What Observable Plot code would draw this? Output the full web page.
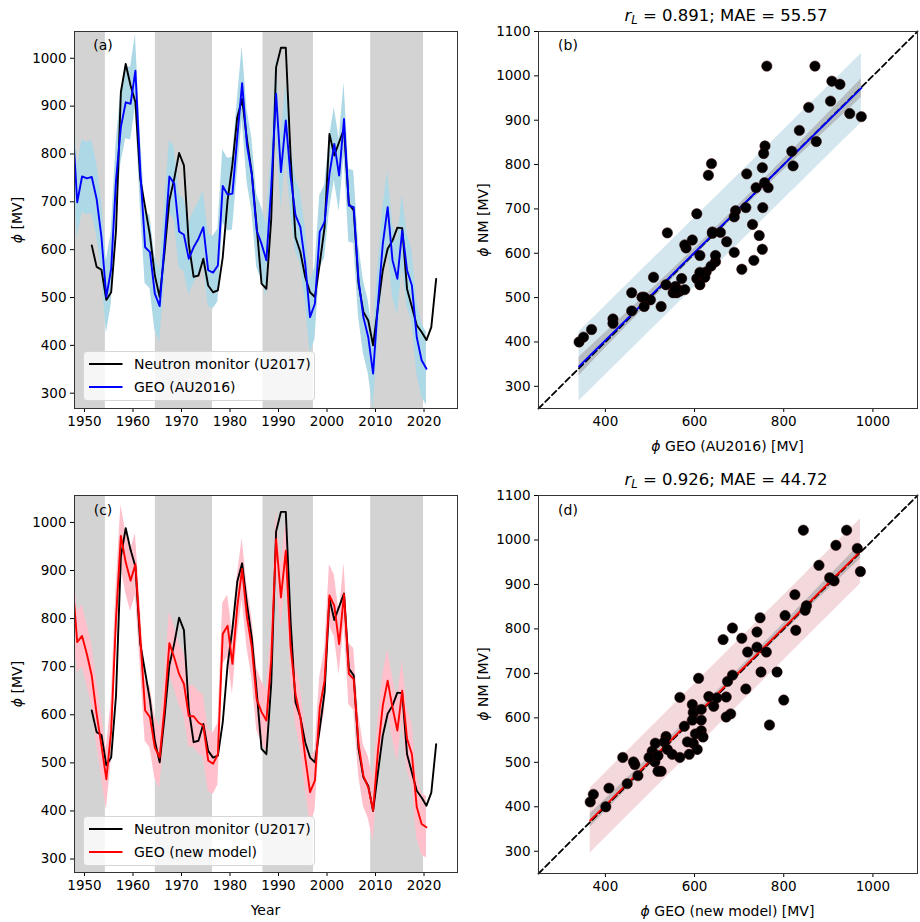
<!DOCTYPE html>
<html><head><meta charset="utf-8">
<script src="https://cdn.jsdelivr.net/npm/d3@7"></script>
<script src="https://cdn.jsdelivr.net/npm/@observablehq/plot@0.6"></script>
<style>
body{margin:0;background:#fff;font-family:"DejaVu Sans",sans-serif;}
#root{position:relative;width:920px;height:922px;overflow:hidden;background:#fff;}
.p{position:absolute;}
.t{position:absolute;font-size:14px;color:#000;white-space:nowrap;line-height:1;transform:translate(-50%,-50%);}
.rot{transform:translate(-50%,-50%) rotate(-90deg);}
.legend{position:absolute;background:rgba(255,255,255,0.8);border:1px solid #d6d6d6;border-radius:4px;box-sizing:border-box;}
.legend .row{position:absolute;left:0;height:20px;display:flex;align-items:center;font-size:14px;white-space:nowrap;}
</style></head><body><div id="root"></div>
<script>
// ---------------- data ----------------
const geoYears = d3.range(1947, 2021);   // plotted at mid-year
const nmYears = d3.range(1951, 2023);
const nmPhi = [609,564,558,495,511,640,929,988,943,908,
  748,689,630,546,501,595,703,748,802,776,
  612,543,546,581,525,511,515,584,703,779,
  877,915,830,759,648,529,518,665,981,1022,
  1022,793,626,595,543,511,501,571,647,842,
  797,825,852,696,682,529,470,452,400,480,
  557,602,619,646,645,518,480,442,428,411,
  438,539];
const geoAU2016 = [870,699,753,749,752,706,626,501,560,745,
  856,908,905,974,765,605,595,508,482,612,
  753,738,638,631,581,605,623,647,557,552,
  567,733,715,717,835,948,818,757,640,612,
  578,730,926,762,870,752,672,647,571,459,
  487,637,658,758,821,755,873,692,689,536,
  459,417,341,487,612,689,578,539,640,557,
  525,417,369,351];
const geoNew = [880,751,764,726,681,602,536,466,567,800,
  972,917,879,913,761,609,595,532,511,615,
  749,719,685,664,597,597,584,577,505,498,
  518,768,785,706,825,903,803,740,632,606,
  588,715,965,844,941,740,643,595,512,439,
  463,615,671,848,827,747,851,685,674,539,
  473,449,401,525,619,671,615,567,650,550,
  518,408,373,366];
const bandAU2016 = 76;   // half-width of shaded uncertainty (MV)
const bandNew = 64;
const predAU2016 = 78;   // half-width of scatter spread band (MV)
const predNew = 73;
const oddCycles = [[1944,1954.3],[1964.6,1976.4],[1986.8,1997.2],[2009.0,2019.9]];
const yearTicks = [1950,1960,1970,1980,1990,2000,2010,2020];
const phiTicks = [300,400,500,600,700,800,900,1000];
const scTicksX = [400,600,800,1000];
const scTicksY = [300,400,500,600,700,800,900,1000,1100];
const scDomain = [250,1100];
const stats = [{r:"0.891", mae:"55.57"},{r:"0.926", mae:"44.72"}];

// ---------------- helpers ----------------
const root = document.getElementById("root");
const FONT = {fontFamily:"DejaVu Sans", fontSize:"13.5px", background:"transparent", color:"black"};

function place(node, left, top){ node.classList.add("p"); node.style.left=left+"px"; node.style.top=top+"px"; root.appendChild(node); }
function text(html, x, y, cls="", size=null){
  const d=document.createElement("div"); d.className="t "+cls; d.innerHTML=html;
  d.style.left=x+"px"; d.style.top=y+"px"; if(size) d.style.fontSize=size+"px"; root.appendChild(d);
}
function legend(left, top, w, h, items){
  const L=document.createElement("div"); L.className="legend";
  Object.assign(L.style,{left:left+"px",top:top+"px",width:w+"px",height:h+"px"});
  items.forEach((it,i)=>{
    const r=document.createElement("div"); r.className="row"; r.style.top=(2+i*23.3)+"px";
    r.innerHTML=`<svg width="50" height="20" style="flex:none"><line x1="5" x2="38.5" y1="10" y2="10" stroke="${it.color}" stroke-width="2"/></svg><span>${it.label}</span>`;
    L.appendChild(r);
  });
  root.appendChild(L);
}

function tsPlot(geo, band, color, bandColor, yDomain, h, mt, mb){
  const nmData = nmYears.map((y,i)=>({year:y, v:nmPhi[i]}));
  const geoData = geoYears.map((y,i)=>({year:y, v:geo[i]}));
  return Plot.plot({
    width:460, height:h, marginLeft:74, marginRight:3, marginTop:mt, marginBottom:mb,
    style:FONT,
    x:{domain:[1947.94,2026.9], ticks:yearTicks, tickFormat:"d", tickSize:4, tickPadding:4, label:null},
    y:{domain:yDomain, ticks:phiTicks, tickFormat:"d", tickSize:4, tickPadding:4, label:null},
    marks:[
      Plot.rect(oddCycles, {x1:d=>d[0], x2:d=>d[1], fill:"#d3d3d3", clip:true}),
      Plot.areaY(geoData, {x:d=>d.year+0.5, y1:d=>d.v-band, y2:d=>d.v+band, fill:bandColor, clip:true}),
      Plot.line(nmData, {x:d=>d.year+0.5, y:"v", stroke:"black", strokeWidth:1.9, clip:true}),
      Plot.line(geoData, {x:d=>d.year+0.5, y:"v", stroke:color, strokeWidth:1.9, clip:true}),
      Plot.frame({stroke:"#333"})
    ]
  });
}

function scPlot(geo, lineColor, predColor, pred, h, mt, mb){
  const pts = nmYears.map((y,i)=>({x: geo[y-geoYears[0]], y: nmPhi[i]})).filter(d=>d.x!==undefined);
  const n=pts.length, mx=d3.mean(pts,d=>d.x), my=d3.mean(pts,d=>d.y);
  const sxx=d3.sum(pts,d=>(d.x-mx)**2), sxy=d3.sum(pts,d=>(d.x-mx)*(d.y-my));
  const b=sxy/sxx, a=my-b*mx;
  const s=Math.sqrt(d3.sum(pts,d=>(d.y-a-b*d.x)**2)/(n-2));
  const fit = pts.map(d=>d.x).sort((p,q)=>p-q).map(x=>({x, yhat:a+b*x, ci:s*Math.sqrt(1/n+(x-mx)**2/sxx)}));
  return Plot.plot({
    width:460, height:h, marginLeft:78, marginRight:3, marginTop:mt, marginBottom:mb,
    style:FONT,
    x:{domain:scDomain, ticks:scTicksX, tickFormat:"d", tickSize:4, tickPadding:4, label:null},
    y:{domain:scDomain, ticks:scTicksY, tickFormat:"d", tickSize:4, tickPadding:4, label:null},
    marks:[
      Plot.areaY(fit, {x:"x", y1:d=>d.yhat-pred, y2:d=>d.yhat+pred, fill:predColor}),
      Plot.areaY(fit, {x:"x", y1:d=>d.yhat-d.ci, y2:d=>d.yhat+d.ci, fill:"#9a9a9a", fillOpacity:0.55}),
      Plot.line(scDomain, {x:d=>d, y:d=>d, stroke:"black", strokeWidth:1.8, strokeDasharray:"6,3.5"}),
      Plot.line(fit, {x:"x", y:"yhat", stroke:lineColor, strokeWidth:1.9}),
      Plot.dot(pts, {x:"x", y:"y", r:5.2, fill:"black", stroke:"#300", strokeWidth:0.5}),
      Plot.frame({stroke:"#333"})
    ]
  });
}

// ---------------- panels ----------------
place(tsPlot(geoAU2016, bandAU2016, "blue", "#add8e6", [268,1056], 460, 31, 52), 0, 0);
place(scPlot(geoAU2016, "blue", "#d4e6ee", predAU2016, 460, 31, 52), 460, 0);
place(tsPlot(geoNew, bandNew, "red", "#ffc0cb", [272,1056], 462, 35, 50), 0, 460);
place(scPlot(geoNew, "red", "#f3d8dc", predNew, 462, 35, 49), 460, 460);

// legends
legend(83, 351, 232, 50, [{color:"black", label:"Neutron monitor (U2017)"},{color:"blue", label:"GEO (AU2016)"}]);
legend(83, 816, 232, 50, [{color:"black", label:"Neutron monitor (U2017)"},{color:"red", label:"GEO (new model)"}]);

// panel letters
text("(a)", 103, 45); text("(b)", 568, 45); text("(c)", 103, 510); text("(d)", 568, 510);
// titles
text(`<i>r</i><sub style="font-size:70%;vertical-align:-0.25em"><i>L</i></sub> = ${stats[0].r}; MAE = ${stats[0].mae}`, 726, 17, "", 16.5);
text(`<i>r</i><sub style="font-size:70%;vertical-align:-0.25em"><i>L</i></sub> = ${stats[1].r}; MAE = ${stats[1].mae}`, 726, 481, "", 16.5);
// axis labels
text("<i>ϕ</i> [MV]", 17, 219.5, "rot");
text("<i>ϕ</i> [MV]", 17, 683.5, "rot");
text("<i>ϕ</i> NM [MV]", 483, 219.5, "rot");
text("<i>ϕ</i> NM [MV]", 483, 684, "rot");
text("<i>ϕ</i> GEO (AU2016) [MV]", 727.5, 446);
text("Year", 265.5, 910);
text("<i>ϕ</i> GEO (new model) [MV]", 727.5, 911);
</script></body></html>
